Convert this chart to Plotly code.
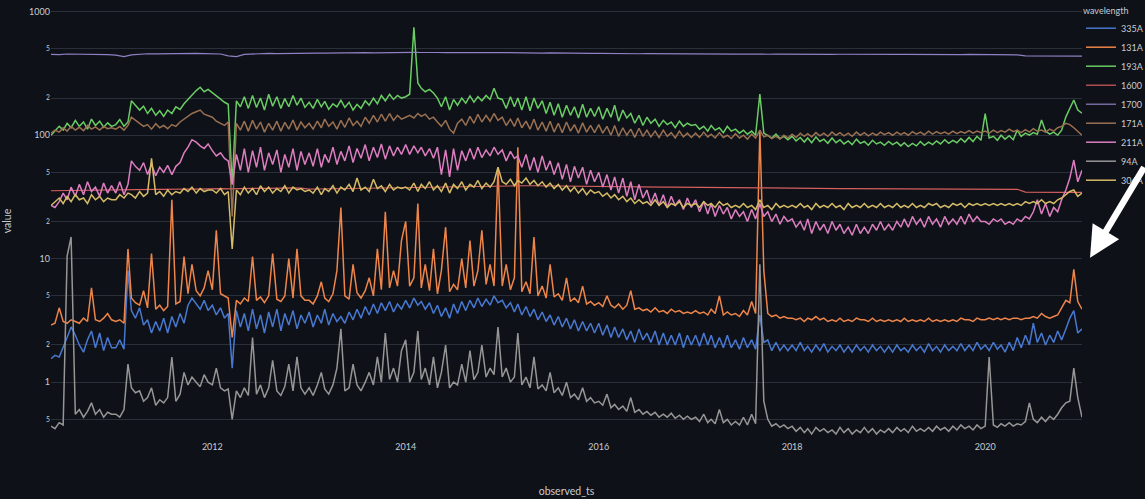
import plotly.graph_objects as go

# ---------------- dates ----------------
half_month_dates = [f"{y}-{m:02d}-{d:02d}" for y in range(2010, 2021) for m in range(1, 13)
                    for d in (1, 16) if (y, m) >= (2010, 5)] + ["2021-01-01"]
monthly_dates = [f"{y}-{m:02d}-01" for y in range(2010, 2021) for m in range(1, 13)
                 if (y, m) >= (2010, 5)] + ["2021-01-01"]

# ---------------- series (half-monthly) ----------------
v_335A = (
    [1.55, 1.65, 1.6, 1.9, 2.3, 2.8, 2.4, 2.0, 1.75, 2.2, 2.6, 1.9, 2.5, 1.8, 2.3, 1.9] +
    [1.9, 2.2, 1.85, 8, 3.8, 3.3, 4.0, 2.9, 3.2, 2.5, 3.1, 2.6, 3.3, 2.5, 3.4, 2.8, 3.6, 3.0, 4.2, 4.8, 4.3, 3.9, 4.6, 3.8] +
    [4.2, 3.5, 4.0, 3.3, 3.6, 1.3, 3.8, 2.8, 3.6, 2.6, 3.9, 2.7, 3.5, 2.5, 3.7, 2.8, 3.9, 2.6, 3.6, 2.9, 3.8, 2.7, 3.5, 3.0] +
    [3.7, 2.8, 3.5, 3.0, 3.9, 2.9, 3.6, 3.1, 3.4, 3.0, 3.7, 3.2, 3.9, 3.3, 4.1, 3.5, 4.3, 3.6, 4.4, 3.8, 4.5, 3.7, 4.3, 3.9] +
    [4.6, 4.0, 4.8, 4.2, 4.5, 3.9, 4.4, 3.6, 4.2, 3.4, 4.0, 3.3, 4.3, 3.6, 4.5, 3.8, 4.6, 4.0, 4.8, 4.1, 4.7, 4.2, 5.0, 4.4] +
    [4.6, 4.0, 4.4, 3.7, 4.3, 3.5, 4.1, 3.4, 3.9, 3.2, 3.7, 3.1, 3.5, 2.9, 3.4, 2.8, 3.3, 2.7, 3.2, 2.6, 3.1, 2.6, 3.0, 2.5] +
    [3.0, 2.4, 2.9, 2.3, 2.8, 2.3, 2.7, 2.2, 2.6, 2.1, 2.7, 2.2, 2.5, 2.1, 2.6, 2.0, 2.5, 2.0, 2.4, 2.0, 2.5, 1.9, 2.4, 2.0] +
    [2.4, 1.95, 2.5, 2.0, 2.4, 1.9, 2.3, 1.9, 2.4, 1.9, 2.2, 1.85, 2.3, 1.9, 2.2, 1.85, 3.5, 2.1, 2.2, 1.8, 2.1, 1.8, 2.0, 1.8] +
    [2.0, 1.8, 2.1, 1.8, 1.95, 1.75, 2.0, 1.8, 2.05, 1.75, 1.95, 1.8, 2.0, 1.75, 1.95, 1.75, 2.0, 1.8, 1.95, 1.75, 2.0, 1.8, 1.95, 1.75] +
    [1.95, 1.75, 2.0, 1.8, 1.9, 1.75, 2.0, 1.8, 1.95, 1.75, 2.05, 1.8, 1.95, 1.75, 2.0, 1.8, 1.95, 1.8, 2.05, 1.8, 2.0, 1.8, 2.1, 1.85] +
    [2.0, 1.8, 2.1, 1.85, 2.0, 1.75, 2.1, 1.8, 2.3, 1.9, 2.4, 2.0, 3.0, 2.1, 2.5, 2.0, 2.4, 2.1, 2.6, 2.2, 2.7, 3.3, 3.8, 2.5] +
    [2.7]
)

v_131A = (
    [2.9, 3.0, 4.0, 3.1, 3.0, 3.2, 3.1, 3.0, 3.3, 3.1, 5.8, 3.2, 3.1, 3.3, 3.6, 3.2] +
    [3.1, 3.2, 3.0, 12, 4.8, 4.4, 4.2, 5.5, 4.0, 11, 3.9, 4.2, 3.8, 4.1, 30, 4.3, 4.5, 10.4, 5.2, 9, 5.5, 5.0, 5.8, 8] +
    [5.6, 17, 5.2, 5.0, 4.8, 2.3, 4.6, 4.3, 4.8, 4.5, 10.4, 4.6, 4.9, 4.4, 5.0, 11, 4.7, 4.5, 5.0, 10, 4.8, 12, 5.0, 4.6] +
    [4.6, 4.3, 5.0, 6.5, 4.8, 4.5, 5.2, 8, 26, 5.0, 4.7, 9, 5.3, 4.8, 5.5, 7, 5.0, 12, 5.6, 24, 5.8, 8, 6.0, 14] +
    [20, 6.0, 7, 28, 5.8, 9, 5.5, 12, 5.2, 8, 18, 5.4, 6.2, 5.6, 10, 5.8, 14, 6.0, 8, 17, 6.2, 9, 6.0, 55] +
    [6.0, 9, 5.6, 7, 80, 5.4, 6.5, 5.2, 15, 5.0, 6, 4.8, 9, 4.9, 5.2, 4.6, 7, 4.5, 4.8, 4.4, 6, 4.3, 4.5, 4.2] +
    [4.4, 4.1, 5, 4.2, 4.0, 4.3, 3.9, 4.2, 5.5, 3.9, 4.0, 3.8, 3.9, 3.7, 4.0, 3.7, 3.8, 3.6, 3.9, 3.7, 3.8, 3.6, 3.7, 3.6] +
    [3.8, 3.6, 3.7, 3.5, 3.9, 3.6, 5, 3.5, 3.7, 3.5, 3.6, 3.4, 3.8, 3.5, 4.5, 3.6, 110, 8, 3.6, 3.4, 3.5, 3.3, 3.4, 3.3] +
    [3.3, 3.2, 3.3, 3.1, 3.3, 3.2, 3.4, 3.2, 3.3, 3.1, 3.2, 3.1, 3.3, 3.1, 3.2, 3.1, 3.3, 3.2, 3.2, 3.1, 3.3, 3.1, 3.2, 3.1] +
    [3.2, 3.1, 3.2, 3.1, 3.3, 3.1, 3.2, 3.1, 3.2, 3.1, 3.3, 3.1, 3.2, 3.1, 3.2, 3.1, 3.2, 3.1, 3.3, 3.2, 3.2, 3.1, 3.3, 3.2] +
    [3.2, 3.3, 3.2, 3.3, 3.2, 3.3, 3.2, 3.3, 3.3, 3.2, 3.3, 3.3, 3.4, 3.3, 3.6, 3.4, 3.3, 3.4, 3.5, 4.0, 4.6, 4.4, 8.2, 4.5] +
    [3.9]
)

v_193A = (
    [100, 108, 118, 110, 125, 115, 132, 118, 128, 112, 135, 120, 130, 116, 126, 118] +
    [122, 134, 118, 128, 190, 175, 160, 172, 150, 165, 145, 158, 142, 160, 150, 170, 162, 180, 195, 215, 230, 245, 225, 235] +
    [222, 208, 196, 185, 178, 40, 190, 170, 205, 165, 210, 168, 200, 160, 215, 172, 205, 165, 198, 170, 210, 175, 200, 168] +
    [185, 165, 195, 170, 188, 162, 180, 170, 192, 168, 185, 160, 178, 165, 190, 175, 200, 180, 210, 190, 215, 195, 210, 200] +
    [205, 215, 750, 265, 240, 225, 235, 220, 200, 170, 205, 160, 195, 175, 200, 182, 208, 185, 205, 190, 210, 195, 240, 200] +
    [195, 165, 205, 170, 200, 160, 205, 158, 200, 165, 190, 150, 185, 145, 180, 140, 175, 145, 170, 138, 178, 140, 165, 142] +
    [170, 135, 165, 140, 175, 130, 160, 138, 150, 125, 145, 120, 140, 125, 135, 118, 132, 122, 128, 115, 130, 118, 125, 120] +
    [122, 112, 118, 108, 120, 110, 115, 105, 118, 108, 112, 104, 110, 102, 108, 100, 215, 104, 100, 95, 102, 94, 98, 92] +
    [98, 90, 96, 88, 95, 87, 97, 89, 93, 86, 95, 87, 92, 85, 90, 84, 93, 86, 89, 83, 91, 85, 88, 83] +
    [89, 84, 88, 82, 87, 81, 86, 82, 89, 83, 88, 84, 90, 85, 92, 86, 91, 87, 94, 88, 96, 89, 98, 91] +
    [150, 95, 98, 91, 100, 93, 99, 92, 110, 98, 104, 100, 105, 102, 133, 108, 102, 106, 100, 110, 141, 165, 193, 160] +
    [151]
)

v_171A = (
    [104, 110, 106, 115, 108, 118, 110, 116, 109, 120, 112, 117, 110, 118, 113, 115] +
    [112, 118, 110, 120, 140, 132, 125, 118, 122, 112, 124, 115, 120, 113, 122, 118, 128, 135, 142, 150, 155, 160, 148, 145] +
    [140, 130, 125, 120, 128, 22, 125, 110, 130, 108, 132, 112, 128, 106, 125, 110, 130, 108, 127, 112, 133, 110, 128, 115] +
    [125, 112, 130, 115, 135, 118, 128, 112, 132, 116, 138, 120, 130, 118, 140, 125, 145, 128, 148, 130, 150, 132, 145, 135] +
    [140, 145, 138, 150, 142, 148, 135, 140, 128, 118, 132, 112, 104, 125, 135, 120, 142, 125, 148, 128, 145, 130, 150, 132] +
    [140, 120, 135, 118, 138, 115, 130, 112, 135, 110, 128, 108, 130, 106, 125, 105, 128, 108, 122, 104, 126, 106, 120, 105] +
    [122, 104, 118, 100, 120, 98, 115, 100, 112, 96, 114, 98, 110, 97, 108, 96, 110, 98, 105, 95, 108, 97, 104, 96] +
    [104, 96, 106, 97, 102, 95, 105, 96, 100, 94, 103, 95, 100, 93, 102, 95, 110, 97, 100, 94, 98, 93, 100, 95] +
    [102, 96, 104, 98, 103, 97, 105, 99, 104, 98, 106, 100, 105, 99, 104, 98, 106, 100, 105, 99, 104, 100, 106, 101] +
    [105, 100, 106, 101, 105, 100, 107, 102, 106, 101, 108, 102, 107, 103, 106, 102, 108, 103, 107, 104, 109, 104, 108, 105] +
    [108, 104, 110, 105, 109, 106, 112, 107, 110, 105, 111, 106, 113, 108, 110, 106, 112, 108, 115, 118, 125, 122, 115, 108] +
    [100]
)

v_211A = (
    [27, 26, 29, 34, 30, 38, 32, 40, 33, 42, 35, 38, 32, 41, 34, 39] +
    [34, 42, 33, 40, 62, 56, 52, 60, 48, 58, 47, 55, 50, 57, 48, 56, 60, 72, 80, 92, 88, 82, 78, 85] +
    [75, 68, 72, 65, 62, 40, 70, 52, 78, 50, 75, 55, 80, 52, 72, 58, 76, 50, 70, 55, 78, 52, 74, 58] +
    [72, 56, 78, 55, 70, 60, 80, 58, 74, 62, 82, 60, 78, 65, 84, 62, 80, 66, 85, 64, 82, 68, 80, 70] +
    [84, 70, 82, 72, 80, 68, 78, 65, 80, 48, 76, 46, 78, 52, 75, 62, 78, 64, 80, 66, 76, 68, 80, 70] +
    [76, 62, 74, 65, 68, 55, 70, 52, 66, 50, 68, 52, 62, 48, 60, 44, 58, 42, 56, 45, 55, 40, 52, 42] +
    [50, 38, 48, 36, 46, 34, 45, 32, 42, 30, 40, 31, 36, 28, 34, 27, 33, 26, 32, 27, 30, 25, 31, 26] +
    [30, 24, 29, 23, 28, 22, 27, 23, 26, 21, 25, 22, 24, 20, 25, 21, 28, 22, 24, 20, 23, 19, 22, 20] +
    [21, 18, 20, 17, 21, 16, 20, 17, 19, 16, 20, 17, 19, 16, 18, 15.5, 19, 16, 18, 16, 19, 17, 20, 17] +
    [19, 17, 20, 18, 21, 18, 22, 19, 21, 18, 22, 19, 21, 18, 22, 19, 21, 19, 22, 19, 23, 20, 22, 20] +
    [20, 19, 21, 20, 21, 19, 20, 19, 21, 20, 22, 21, 24, 30, 23, 28, 22, 26, 24, 30, 36, 45, 63, 42] +
    [52]
)

v_94A = (
    [0.44, 0.42, 0.47, 0.45, 10.5, 15, 0.55, 0.6, 0.52, 0.58, 0.68, 0.55, 0.6, 0.52, 0.57, 0.55] +
    [0.55, 0.52, 0.6, 1.4, 0.9, 0.82, 0.85, 0.7, 0.75, 0.9, 0.65, 0.72, 0.68, 0.75, 1.6, 0.7, 0.8, 1.2, 0.95, 1.1, 1.0, 0.92, 1.15, 1.0] +
    [0.95, 1.3, 0.9, 0.85, 0.88, 0.5, 0.85, 0.75, 0.9, 0.78, 2.3, 0.8, 0.95, 0.75, 0.9, 1.5, 0.85, 0.78, 0.92, 1.4, 0.85, 1.6, 0.9, 0.8] +
    [0.9, 0.78, 0.95, 1.2, 0.88, 0.8, 0.95, 1.3, 2.7, 0.85, 0.9, 1.4, 0.95, 0.85, 1.0, 1.2, 0.95, 1.6, 1.0, 2.5, 1.05, 1.3, 1.0, 1.8] +
    [2.2, 1.0, 1.2, 2.6, 1.05, 1.3, 0.95, 1.6, 0.9, 1.2, 2.0, 0.9, 1.0, 0.95, 1.4, 1.0, 1.8, 1.05, 1.2, 2.0, 1.1, 1.3, 1.15, 2.8] +
    [1.1, 1.3, 1.0, 1.1, 2.5, 0.95, 1.1, 0.9, 1.6, 0.88, 0.95, 0.85, 1.2, 0.82, 0.9, 0.78, 1.0, 0.75, 0.8, 0.72, 0.9, 0.7, 0.75, 0.68] +
    [0.7, 0.65, 0.8, 0.62, 0.66, 0.6, 0.64, 0.58, 0.75, 0.57, 0.6, 0.55, 0.58, 0.54, 0.57, 0.52, 0.55, 0.52, 0.56, 0.51, 0.54, 0.5, 0.53, 0.5] +
    [0.52, 0.48, 0.55, 0.47, 0.5, 0.46, 0.6, 0.47, 0.5, 0.45, 0.48, 0.45, 0.52, 0.45, 0.55, 0.46, 9, 0.7, 0.5, 0.44, 0.46, 0.43, 0.45, 0.42] +
    [0.44, 0.4, 0.43, 0.39, 0.42, 0.38, 0.43, 0.4, 0.42, 0.39, 0.41, 0.38, 0.43, 0.39, 0.42, 0.38, 0.41, 0.39, 0.43, 0.39, 0.42, 0.38, 0.41, 0.39] +
    [0.42, 0.39, 0.43, 0.4, 0.42, 0.39, 0.44, 0.4, 0.42, 0.4, 0.43, 0.4, 0.44, 0.41, 0.43, 0.4, 0.44, 0.41, 0.45, 0.42, 0.44, 0.41, 0.45, 0.42] +
    [0.44, 1.6, 0.45, 0.43, 0.46, 0.44, 0.47, 0.44, 0.46, 0.45, 0.48, 0.68, 0.5, 0.47, 0.52, 0.48, 0.53, 0.5, 0.55, 0.62, 0.68, 0.7, 1.3, 0.75] +
    [0.52]
)

v_304A = (
    [27, 29, 31, 28, 32, 29, 33, 30, 31, 28, 33, 30, 32, 29, 31, 30] +
    [30, 33, 31, 34, 33, 31, 35, 32, 34, 65, 33, 35, 32, 36, 33, 35, 34, 37, 35, 38, 34, 37, 35, 36] +
    [36, 34, 37, 33, 35, 12, 36, 33, 38, 34, 37, 33, 39, 35, 38, 34, 37, 35, 39, 34, 38, 36, 37, 35] +
    [36, 34, 38, 33, 37, 35, 39, 34, 38, 36, 40, 35, 45, 36, 38, 35, 44, 37, 39, 35, 40, 36, 38, 37] +
    [38, 36, 41, 35, 40, 37, 42, 36, 39, 35, 41, 34, 40, 37, 42, 36, 40, 38, 43, 37, 41, 38, 42, 55] +
    [42, 40, 44, 39, 43, 41, 45, 40, 43, 39, 42, 38, 41, 37, 40, 36, 39, 35, 38, 34, 37, 33, 36, 34] +
    [35, 32, 34, 31, 33, 30, 32, 29, 31, 28, 30, 28, 29, 27, 30, 27, 29, 26, 28, 27, 29, 26, 28, 27] +
    [28, 26, 29, 27, 28, 26, 29, 27, 28, 26, 27, 26, 28, 26, 27, 25, 30, 26, 27, 25, 28, 26, 27, 26] +
    [27, 26, 28, 26, 27, 25, 28, 26, 27, 26, 28, 26, 27, 25, 28, 26, 27, 26, 28, 26, 27, 26, 28, 26] +
    [27, 26, 28, 26, 27, 26, 28, 26, 27, 26, 28, 27, 28, 26, 27, 26, 28, 27, 28, 26, 28, 27, 28, 27] +
    [28, 27, 28, 27, 28, 27, 28, 27, 28, 27, 29, 28, 29, 28, 30, 28, 29, 28, 30, 31, 33, 35, 36, 32] +
    [34]
)

# ---------------- series (monthly, nearly flat) ----------------
v_1600 = (
    [35.5, 35.6, 35.8, 35.7, 36.0, 35.9, 36.1, 36.0] +
    [36.2, 36.1, 36.3, 36.4, 36.3, 36.5, 36.4, 36.6, 36.5, 36.7, 36.6, 36.8] +
    [36.8, 36.9, 36.8, 37.0, 37.0, 37.1, 37.2, 37.1, 37.3, 37.2, 37.4, 37.3] +
    [36.6, 36.7, 36.8, 36.9, 37.0, 37.1, 37.2, 37.3, 37.4, 37.5, 37.6, 37.7] +
    [37.8, 37.9, 38.0, 38.1, 38.2, 38.3, 38.4, 38.5, 38.6, 38.7, 38.8, 38.9] +
    [39.0, 39.0, 39.1, 39.0, 39.0, 38.9, 38.9, 38.8, 38.8, 38.7, 38.7, 38.6] +
    [38.5, 38.5, 38.4, 38.4, 38.3, 38.2, 38.2, 38.1, 38.0, 38.0, 37.9, 37.9] +
    [37.8, 37.8, 37.7, 37.7, 37.6, 37.6, 37.5, 37.5, 37.4, 37.4, 37.3, 37.3] +
    [37.2, 37.2, 37.1, 37.1, 37.0, 37.0, 37.0, 36.9, 36.9, 36.9, 36.8, 36.8] +
    [36.8, 36.8, 36.7, 36.7, 36.7, 36.7, 36.6, 36.6, 36.6, 36.6, 36.6, 36.6] +
    [36.6, 36.6, 36.6, 36.6, 36.5, 34.6, 34.5, 34.5, 34.5, 34.5, 34.5, 34.5] +
    [34.5]
)

v_1700 = (
    [452, 450, 455, 454, 456, 453, 455, 450] +
    [445, 433, 448, 455, 457, 456, 458, 457, 459, 458, 460, 458] +
    [457, 455, 440, 433, 452, 456, 458, 460, 459, 461, 460, 462] +
    [461, 463, 462, 464, 463, 465, 464, 466, 465, 467, 466, 468] +
    [467, 469, 468, 470, 468, 467, 469, 468, 466, 468, 467, 466] +
    [467, 465, 466, 464, 465, 463, 464, 462, 463, 461, 462, 460] +
    [461, 459, 460, 458, 459, 457, 458, 457, 456, 457, 456, 455] +
    [456, 455, 456, 454, 455, 454, 455, 453, 454, 453, 454, 453] +
    [454, 453, 454, 452, 453, 452, 453, 452, 453, 451, 452, 451] +
    [452, 451, 452, 451, 452, 450, 451, 450, 451, 450, 451, 450] +
    [450, 449, 450, 449, 448, 440, 439, 438, 439, 438, 437, 438] +
    [437]
)

wavelengths = ["335A", "131A", "193A", "1600", "1700", "171A", "211A", "94A", "304A"]
series_values = [v_335A, v_131A, v_193A, v_1600, v_1700, v_171A, v_211A, v_94A, v_304A]
series_dates = [half_month_dates, half_month_dates, half_month_dates, monthly_dates, monthly_dates,
                half_month_dates, half_month_dates, half_month_dates, half_month_dates]
colors = ["#4878d0", "#ee854a", "#6acc64", "#d65f5f", "#8f80c4",
          "#9a7052", "#dc7ec0", "#969696", "#d5bb67"]
widths = [1.5, 1.5, 1.5, 1.2, 1.2, 1.5, 1.5, 1.5, 1.5]

for name, vals, dts in zip(wavelengths, series_values, series_dates):
    if len(vals) != len(dts):
        raise ValueError(f"{name}: {len(vals)} values vs {len(dts)} dates")

BG = "#0e1117"
TXT = "#c9cbd1"
fig = go.Figure()
for name, vals, dts, col, w in zip(wavelengths, series_values, series_dates, colors, widths):
    fig.add_trace(go.Scatter(x=dts, y=vals, mode="lines", name=name,
                             line=dict(color=col, width=w)))

fig.update_layout(
    width=1145, height=499,
    paper_bgcolor=BG, plot_bgcolor=BG,
    font=dict(family="Lato, 'Open Sans', sans-serif", size=9, color=TXT),
    margin=dict(l=51, r=63, t=2, b=59, autoexpand=False),
    legend=dict(title=dict(text="wavelength", font=dict(size=9, color=TXT)),
                x=0.999, xanchor="left", y=1.0, yanchor="top",
                bgcolor="rgba(0,0,0,0)", font=dict(size=9, color=TXT)),
    showlegend=True,
)
fig.update_xaxes(
    title=dict(text="observed_ts", font=dict(size=10.5, color=TXT), standoff=36),
    range=["2010-05-01", "2021-01-01"],
    tick0="2012-01-01", dtick="M24", tickformat="%Y",
    showgrid=False, zeroline=False, showline=False,
    tickfont=dict(size=9, color=TXT),
)
fig.update_yaxes(
    title=dict(text="value", font=dict(size=10.5, color=TXT)),
    type="log", range=[-0.4685, 3.0792],
    showgrid=True, gridcolor="#2b2f3a", gridwidth=1,
    zeroline=False, showline=False,
    tickfont=dict(size=9, color=TXT),
)

fig.add_annotation(
    x=1.0078, y=0.416, xref="paper", yref="paper",
    ax=80, ay=-92, axref="pixel", ayref="pixel",
    showarrow=True, arrowhead=2, arrowsize=0.95, arrowwidth=6.5,
    arrowcolor="white", text="",
)

fig.write_html("out.html", config={"displayModeBar": False},
               post_script="document.body.style.margin='0px';document.body.style.overflow='hidden';")
